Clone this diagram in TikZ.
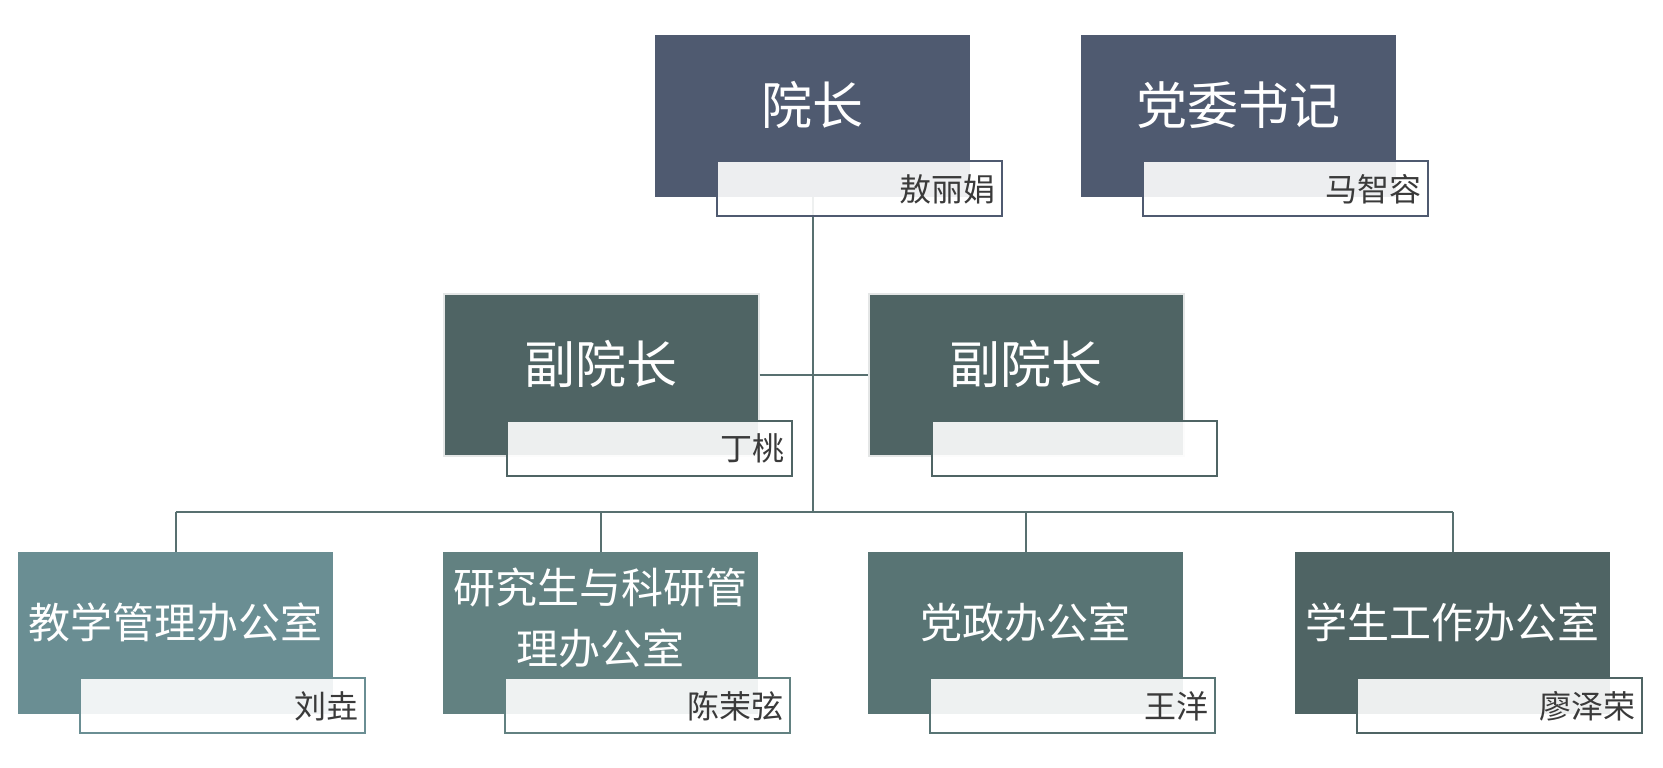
\documentclass[tikz,border=0pt]{standalone}
\usepackage{fontspec}
\setmainfont{Noto Sans CJK SC}
\usetikzlibrary{positioning}

\definecolor{deanblue}{HTML}{4F5A70}
\definecolor{vicegreen}{HTML}{4F6464}
\definecolor{officeA}{HTML}{6A8E93}
\definecolor{officeB}{HTML}{628181}
\definecolor{officeC}{HTML}{587474}
\definecolor{officeD}{HTML}{4F6464}
\definecolor{linkgrey}{HTML}{587070}
\definecolor{nametext}{HTML}{3A3A3A}
\definecolor{viceedge}{HTML}{E4E6E6}

\tikzset{
  rolebox/.style={rectangle, inner sep=0pt, minimum width=315pt, minimum height=162pt, anchor=north west},
  roletext/.style={text=white, font=\fontsize{51}{60}\selectfont, yshift=11pt},
  officetext/.style={text=white, font=\fontsize{42}{61}\selectfont, align=center, yshift=11pt},
  namebox/.style={rectangle, fill=white, fill opacity=0.9, text opacity=1, line width=2pt,
    text=nametext, font=\fontsize{32}{38}\selectfont, inner xsep=7pt, inner ysep=0pt,
    text width=271pt, align=right, minimum height=55pt, anchor=south east},
  link/.style={draw=linkgrey, line width=2pt}
}

\begin{document}
\begin{tikzpicture}[x=1pt,y=-1pt]
\useasboundingbox (0,0) rectangle (1663,768);

% top row
\node[rolebox, fill=deanblue, label={[roletext]center:院长}] (dean) at (655,35) {};
\node[rolebox, fill=deanblue, label={[roletext]center:党委书记}] (secretary) at (1081,35) {};

% vice deans
\node[rolebox, fill=vicegreen, draw=viceedge, line width=1.5pt, label={[roletext]center:副院长}] (viceL) at (443,293) {};
\node[rolebox, fill=vicegreen, draw=viceedge, line width=1.5pt, label={[roletext]center:副院长}] (viceR) at (868,293) {};

% offices
\node[rolebox, fill=officeA, label={[officetext]center:教学管理办公室}] (teaching) at (18,552) {};
\node[rolebox, fill=officeB, label={[officetext, yshift=4pt]center:研究生与科研管\\理办公室}] (research) at (443,552) {};
\node[rolebox, fill=officeC, label={[officetext]center:党政办公室}] (party) at (868,552) {};
\node[rolebox, fill=officeD, label={[officetext]center:学生工作办公室}] (student) at (1295,552) {};

% connectors
\coordinate (hub) at (dean.south |- 0,512);
\draw[link] (dean.south) -- (hub);
\draw[link] (viceL.east) -- (viceR.west);
\draw[link] (teaching.north |- hub) -- (student.north |- hub);
\foreach \o in {teaching,research,party,student}
  \draw[link] (\o.north |- hub) -- (\o.north);

% name tags
\node[namebox, draw=deanblue] (deanname) at ([shift={(33pt,-20pt)}]dean.south east) {敖丽娟};
\node[namebox, draw=deanblue] (secretaryname) at ([shift={(33pt,-20pt)}]secretary.south east) {马智容};
\node[namebox, draw=vicegreen] (viceLname) at ([shift={(33pt,-20pt)}]viceL.south east) {丁桃};
\node[namebox, draw=vicegreen] (viceRname) at ([shift={(33pt,-20pt)}]viceR.south east) {};
\node[namebox, draw=officeA] (teachingname) at ([shift={(33pt,-20pt)}]teaching.south east) {刘垚};
\node[namebox, draw=officeB] (researchname) at ([shift={(33pt,-20pt)}]research.south east) {陈茉弦};
\node[namebox, draw=officeC] (partyname) at ([shift={(33pt,-20pt)}]party.south east) {王洋};
\node[namebox, draw=officeD] (studentname) at ([shift={(33pt,-20pt)}]student.south east) {廖泽荣};

\end{tikzpicture}
\end{document}
